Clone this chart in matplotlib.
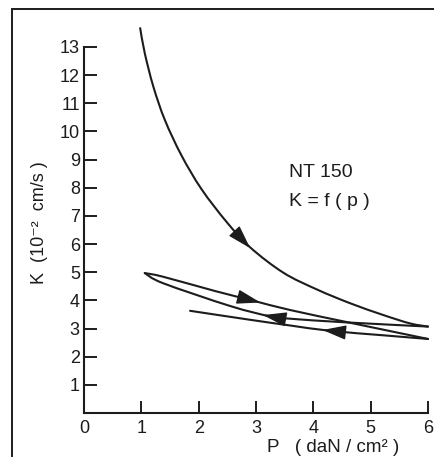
import numpy as np
import matplotlib
matplotlib.use("Agg")
import matplotlib.pyplot as plt
from matplotlib.patches import Rectangle, FancyArrowPatch, PathPatch
from matplotlib.path import Path

plt.rcParams['font.family'] = ['Liberation Sans', 'DejaVu Sans']

# --- data ---
# first loading
load_p = [0.98, 1.06, 1.21, 1.41, 1.70, 2.05, 2.49, 2.90, 3.48, 4.06, 4.64, 5.22, 5.69, 6.0]
load_k = [13.67, 12.78, 11.59, 10.41, 9.15, 7.95, 6.78, 5.88, 4.98, 4.39, 3.90, 3.48, 3.18, 3.07]
# first unloading (6 -> 1)
unl1_p = [6.0, 4.56, 3.59, 3.25, 2.55, 1.38, 1.06]
unl1_k = [3.07, 3.22, 3.35, 3.43, 3.80, 4.61, 4.97]
# reloading (1 -> 6)
rel_p = [1.06, 1.38, 2.29, 2.95, 3.59, 4.56, 5.22, 6.0]
rel_k = [4.97, 4.84, 4.33, 3.99, 3.66, 3.24, 2.96, 2.63]
# second unloading (6 -> 1.85)
unl2_p = [6.0, 5.22, 4.29, 3.59, 2.90, 1.85]
unl2_k = [2.63, 2.76, 2.92, 3.11, 3.31, 3.63]

# arrow positions (p, k) on each branch
arrow_p = [2.81, 3.25, 2.95, 4.29]
arrow_k = [6.05, 3.43, 3.99, 2.92]

xticks = [0, 1, 2, 3, 4, 5, 6]
yticks = list(range(1, 14))

W, H = 435, 457
INK = '#1c1c1c'


def smooth_path(px, py):
    """Catmull-Rom curve through the read points, as cubic Bezier path."""
    pts = np.column_stack([px, py]).astype(float)
    n = len(pts)
    verts = [pts[0]]
    codes = [Path.MOVETO]
    for i in range(n - 1):
        p0 = pts[i - 1] if i > 0 else pts[i]
        p1 = pts[i]
        p2 = pts[i + 1]
        p3 = pts[i + 2] if i + 2 < n else pts[i + 1]
        c1 = p1 + (p2 - p0) / 6.0
        c2 = p2 - (p3 - p1) / 6.0
        verts += [c1, c2, p2]
        codes += [Path.CURVE4] * 3
    return Path(verts, codes)


fig = plt.figure(figsize=(W / 100, H / 100), dpi=100)
fig.patch.set_facecolor('white')

# outer frame (left and top edges visible)
fig.add_artist(Rectangle((12 / W, -0.2), 1.5, (1 - 9 / H) + 0.2,
                         transform=fig.transFigure, fill=False,
                         lw=1.4, ec=INK, clip_on=False))

ax = fig.add_axes([84 / W, 1 - 413 / H, 344 / W, 366 / H])
ax.set_xlim(0, 6)
ax.set_ylim(0, 13)
for s in ['top', 'right']:
    ax.spines[s].set_visible(False)
for s in ['left', 'bottom']:
    ax.spines[s].set_linewidth(1.5)
    ax.spines[s].set_color(INK)

ax.set_xticks(xticks)
ax.set_yticks(yticks)
ax.tick_params(axis='both', direction='in', length=9, width=1.4,
               color=INK, labelsize=13, labelcolor=INK)
ax.tick_params(axis='y', pad=3)
ax.tick_params(axis='x', pad=5)

ax.set_ylabel('K  (10⁻²  cm/s )', fontsize=13, color=INK)
ax.yaxis.set_label_coords(-0.105, 0.52)
ax.set_xlabel('P   ( daN / cm² )', fontsize=13.5, color=INK)
ax.xaxis.set_label_coords(0.725, -0.072)

lw = 1.5
branches = [(load_p, load_k), (unl1_p, unl1_k), (rel_p, rel_k), (unl2_p, unl2_k)]
for bp, bk in branches:
    patch = PathPatch(smooth_path(bp, bk), fill=False, ec=INK, lw=lw,
                      clip_on=False, capstyle='round', joinstyle='round')
    ax.add_patch(patch)

# arrowheads: direction follows each branch's drawing order
for (bp, bk), ap, ak in zip(branches, arrow_p, arrow_k):
    bp = np.asarray(bp, float)
    bk = np.asarray(bk, float)
    sign = 1.0 if bp[-1] > bp[0] else -1.0
    order = np.argsort(bp)
    d = 0.06
    k1 = np.interp(ap - d, bp[order], bk[order])
    k2 = np.interp(ap + d, bp[order], bk[order])
    p1 = ax.transData.transform((ap - d, k1))
    p2 = ax.transData.transform((ap + d, k2))
    v = (p2 - p1) * sign
    v = v / np.hypot(*v)
    c = ax.transData.transform((ap, ak))
    L = 15
    tail = ax.transData.inverted().transform(c - v * L * 0.5)
    head = ax.transData.inverted().transform(c + v * L * 0.5)
    arr = FancyArrowPatch(tail, head, arrowstyle='-|>,head_length=1.05,head_width=0.32',
                          mutation_scale=14, color=INK, lw=1.0, shrinkA=0, shrinkB=0)
    ax.add_patch(arr)

ax.text(3.57, 8.56, 'NT 150', fontsize=14, color=INK, ha='left', va='center')
ax.text(3.57, 7.50, 'K = f ( p )', fontsize=14, color=INK, ha='left', va='center')

fig.savefig('out.png', dpi=100, facecolor='white')
